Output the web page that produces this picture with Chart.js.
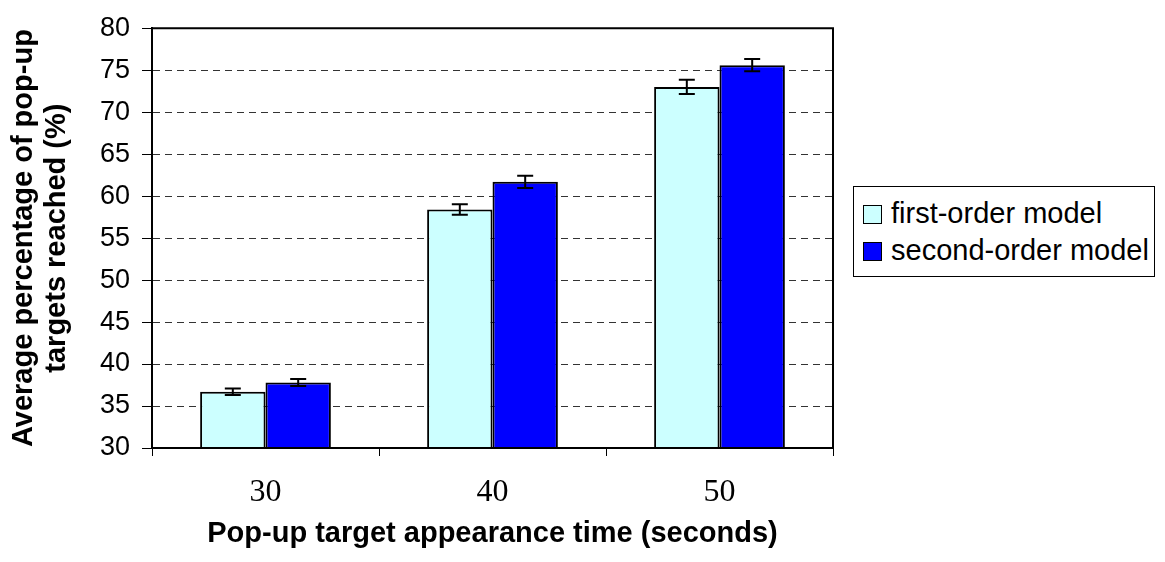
<!DOCTYPE html>
<html>
<head>
<meta charset="utf-8">
<script src="https://cdn.jsdelivr.net/npm/chart.js@4/dist/chart.umd.min.js"></script>
<style>
  body { margin: 0; background: #fff; }
  #wrap { position: relative; width: 1165px; height: 562px; }
  #legend {
    position: absolute; left: 853px; top: 186px; width: 300px; height: 89px;
    border: 1px solid #000; background: #fff;
    font-family: "Liberation Sans", Arial, sans-serif; font-size: 29px; color: #000;
  }
  .row { position: absolute; left: 9px; height: 32px; line-height: 32px; white-space: nowrap; }
  .sw { display: inline-block; width: 17px; height: 17px; border: 1px solid #000; vertical-align: -1px; margin-right: 9px; }
</style>
</head>
<body>
<div id="wrap">
  <canvas id="chart"></canvas>
  <div id="legend"></div>
</div>
<script>
// valores
const categorias = ['30', '40', '50'];
const nomesSeries = ['first-order model', 'second-order model'];
const primeiraOrdem = [36.7, 58.4, 73.0];
const primeiraErro = [0.4, 0.62, 0.85];
const segundaOrdem = [37.8, 61.7, 75.6];
const segundaErro = [0.43, 0.73, 0.73];
const cores = ['#CCFFFF', '#0000FF'];

// barras de erro
const errorBars = {
  id: 'errorBars',
  afterDatasetsDraw(chart) {
    const ctx = chart.ctx;
    const y = chart.scales.y;
    ctx.save();
    ctx.strokeStyle = '#000';
    ctx.lineWidth = 2;
    chart.data.datasets.forEach((ds, i) => {
      chart.getDatasetMeta(i).data.forEach((bar, j) => {
        const v = ds.data[j], e = ds.erros[j];
        const top = y.getPixelForValue(v + e);
        const bot = y.getPixelForValue(v - e);
        ctx.beginPath();
        ctx.moveTo(bar.x, top); ctx.lineTo(bar.x, bot);
        ctx.moveTo(bar.x - 8, top); ctx.lineTo(bar.x + 8, top);
        ctx.moveTo(bar.x - 8, bot); ctx.lineTo(bar.x + 8, bot);
        ctx.stroke();
      });
    });
    ctx.restore();
  }
};

// moldura do gráfico
const moldura = {
  id: 'moldura',
  afterDraw(chart) {
    const a = chart.chartArea, ctx = chart.ctx;
    ctx.save();
    ctx.strokeStyle = '#000';
    ctx.lineWidth = 2;
    ctx.beginPath();
    ctx.moveTo(a.left, a.bottom);
    ctx.lineTo(a.left, a.top);
    ctx.lineTo(a.right, a.top);
    ctx.lineTo(a.right, a.bottom);
    ctx.lineTo(a.left, a.bottom);
    ctx.stroke();
    ctx.restore();
  }
};

const sans = '"Liberation Sans", Arial, sans-serif';

new Chart(document.getElementById('chart'), {
  type: 'bar',
  data: {
    labels: categorias,
    datasets: [
      { label: nomesSeries[0], data: primeiraOrdem, erros: primeiraErro, backgroundColor: cores[0], borderColor: '#000', borderWidth: 2 },
      { label: nomesSeries[1], data: segundaOrdem, erros: segundaErro, backgroundColor: cores[1], borderColor: '#000', borderWidth: 2 }
    ]
  },
  options: {
    responsive: true,
    maintainAspectRatio: false,
    animation: false,
    categoryPercentage: 0.576,
    barPercentage: 1.0,
    layout: { padding: { top: 18, right: 332, left: 0, bottom: 0 } },
    plugins: { legend: { display: false }, tooltip: { enabled: false } },
    scales: {
      x: {
        afterFit: s => { s.height = 114; },
        grid: { drawOnChartArea: false, drawTicks: true, tickLength: 8, color: '#000', offset: true },
        border: { color: '#000', width: 2 },
        ticks: { color: '#000', padding: 17, font: { family: '"Liberation Serif", "Times New Roman", serif', size: 32 } },
        title: {
          display: true,
          text: 'Pop-up target appearance time (seconds)',
          color: '#000',
          font: { family: sans, size: 29, weight: 'bold' },
          padding: { top: 0, bottom: 11 }
        }
      },
      y: {
        min: 30, max: 80,
        afterFit: s => { s.width = 152; },
        grid: { color: '#333', tickBorderDash: [], tickColor: '#000', tickLength: 10 },
        border: { color: '#000', width: 2, dash: [7, 5] },
        ticks: { stepSize: 5, color: '#000', padding: 12, font: { family: sans, size: 27 } },
        title: {
          display: true,
          text: ['Average percentage of pop-up', 'targets reached (%)'],
          color: '#000',
          font: { family: sans, size: 29, weight: 'bold', lineHeight: 1.12 },
          padding: { top: 8, bottom: 0 }
        }
      }
    }
  },
  plugins: [errorBars, moldura]
});

// legenda
const leg = document.getElementById('legend');
nomesSeries.forEach((n, i) => {
  const r = document.createElement('div');
  r.className = 'row';
  r.style.top = (i === 0 ? 10 : 47) + 'px';
  r.innerHTML = '<span class="sw" style="background:' + cores[i] + '"></span>' + n;
  leg.appendChild(r);
});
</script>
</body>
</html>
